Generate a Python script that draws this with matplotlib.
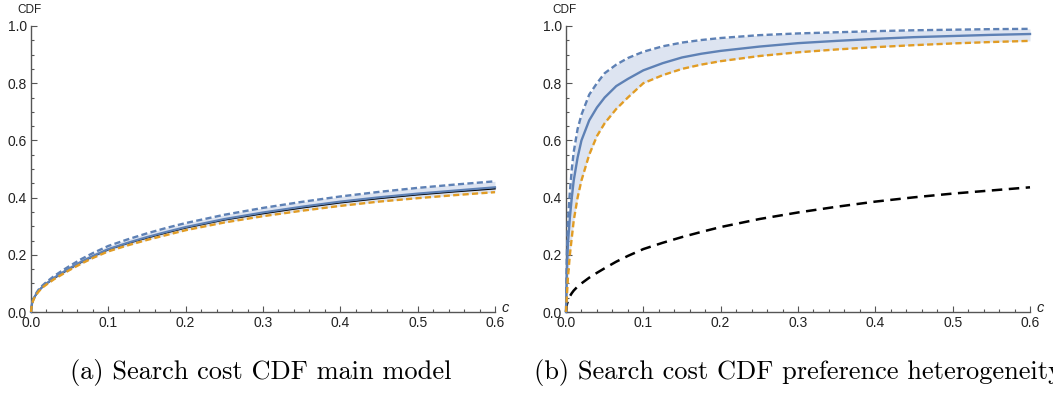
import matplotlib
import matplotlib.pyplot as plt
from matplotlib.ticker import MultipleLocator, FormatStrFormatter

matplotlib.use("Agg")

# shared grid of search cost values
cost = [0, 0.001, 0.0025, 0.005, 0.0075, 0.01, 0.015, 0.02, 0.03, 0.04, 0.05,
        0.065, 0.08, 0.1, 0.125, 0.15, 0.175, 0.2, 0.25, 0.3, 0.35, 0.4,
        0.45, 0.5, 0.55, 0.6]

# (a) main model
main_est = [0, 0.025, 0.040, 0.055, 0.066, 0.075, 0.089, 0.100, 0.120, 0.137, 0.153,
            0.176, 0.196, 0.220, 0.242, 0.262, 0.280, 0.297, 0.325, 0.348, 0.368,
            0.386, 0.401, 0.414, 0.425, 0.436]
main_hi = [0, 0.026, 0.042, 0.058, 0.069, 0.079, 0.093, 0.105, 0.126, 0.144, 0.161,
           0.185, 0.206, 0.231, 0.254, 0.275, 0.294, 0.311, 0.340, 0.364, 0.385,
           0.404, 0.420, 0.434, 0.446, 0.457]
main_lo = [0, 0.024, 0.038, 0.053, 0.063, 0.072, 0.086, 0.096, 0.115, 0.131, 0.147,
           0.169, 0.189, 0.212, 0.233, 0.252, 0.269, 0.286, 0.313, 0.335, 0.354,
           0.371, 0.386, 0.398, 0.409, 0.419]
main_true = [0, 0.025, 0.040, 0.054, 0.065, 0.074, 0.088, 0.099, 0.118, 0.135, 0.151,
             0.174, 0.194, 0.218, 0.240, 0.259, 0.277, 0.294, 0.322, 0.344, 0.364,
             0.382, 0.397, 0.410, 0.421, 0.431]

# (b) preference heterogeneity
het_est = [0, 0.13, 0.24, 0.33, 0.40, 0.46, 0.54, 0.60, 0.67, 0.715, 0.75,
           0.79, 0.815, 0.845, 0.87, 0.89, 0.903, 0.913, 0.928, 0.940, 0.948,
           0.955, 0.961, 0.965, 0.969, 0.972]
het_hi = [0, 0.19, 0.32, 0.42, 0.50, 0.56, 0.64, 0.69, 0.76, 0.80, 0.835,
          0.865, 0.888, 0.91, 0.929, 0.942, 0.951, 0.958, 0.968, 0.974, 0.978,
          0.982, 0.985, 0.987, 0.989, 0.990]
het_lo = [0, 0.05, 0.12, 0.20, 0.26, 0.32, 0.40, 0.46, 0.55, 0.615, 0.66,
          0.71, 0.75, 0.80, 0.828, 0.85, 0.865, 0.877, 0.895, 0.908, 0.918,
          0.926, 0.933, 0.939, 0.944, 0.948]

BLUE = "#5e81b5"
ORANGE = "#e19c24"
BAND = "#dde4f1"
AXIS = "#555555"
DASH = (0, (2.6, 1.4))

fig = plt.figure(figsize=(10.53, 3.96), dpi=100)
ax_a = fig.add_axes([31 / 1053, 84 / 396, 464 / 1053, 286 / 396])
ax_b = fig.add_axes([566 / 1053, 84 / 396, 464 / 1053, 286 / 396])


def style_axis(ax):
    ax.set_xlim(0, 0.6)
    ax.set_ylim(0, 1)
    for side in ("top", "right"):
        ax.spines[side].set_visible(False)
    for side in ("left", "bottom"):
        ax.spines[side].set_color(AXIS)
        ax.spines[side].set_linewidth(1.0)
    ax.xaxis.set_major_locator(MultipleLocator(0.1))
    ax.xaxis.set_minor_locator(MultipleLocator(0.02))
    ax.yaxis.set_major_locator(MultipleLocator(0.2))
    ax.yaxis.set_minor_locator(MultipleLocator(0.05))
    ax.xaxis.set_major_formatter(FormatStrFormatter("%.1f"))
    ax.yaxis.set_major_formatter(FormatStrFormatter("%.1f"))
    ax.tick_params(which="both", direction="in", color=AXIS, width=0.8,
                   labelsize=10, labelcolor="#222222", pad=3)
    for label in ax.get_xticklabels() + ax.get_yticklabels():
        label.set_fontfamily("Liberation Sans")
    ax.tick_params(which="major", length=4.5)
    ax.tick_params(which="minor", length=2.5)
    ax.text(-0.030, 1.056, "CDF", transform=ax.transAxes, fontsize=8.5,
            fontfamily="Liberation Sans", color="#222222", ha="left", va="center")
    ax.text(1.015, 0.015, "c", transform=ax.transAxes, fontsize=10.5,
            fontfamily="Liberation Sans", style="italic", color="#222222",
            ha="left", va="center")


style_axis(ax_a)
ax_a.fill_between(cost, main_lo, main_hi, color=BAND, lw=0, zorder=1)
ax_a.plot(cost, main_true, color="black", lw=1.1, zorder=2)
ax_a.plot(cost, main_est, color=BLUE, lw=1.6, zorder=3)
ax_a.plot(cost, main_hi, color=BLUE, lw=1.7, ls=DASH, zorder=3)
ax_a.plot(cost, main_lo, color=ORANGE, lw=1.7, ls=DASH, zorder=3)

style_axis(ax_b)
ax_b.fill_between(cost, het_lo, het_hi, color=BAND, lw=0, zorder=1)
ax_b.plot(cost, main_est, color="black", lw=1.8, ls=(0, (4.2, 2.6)), zorder=2)
ax_b.plot(cost, het_est, color=BLUE, lw=1.7, zorder=3)
ax_b.plot(cost, het_hi, color=BLUE, lw=1.7, ls=DASH, zorder=3)
ax_b.plot(cost, het_lo, color=ORANGE, lw=1.7, ls=DASH, zorder=3)

for ax in (ax_a, ax_b):
    for line in ax.get_lines():
        line.set_clip_on(False)

fig.text(70 / 1053, 1 - 372 / 396, "(a) Search cost CDF main model",
         fontfamily="cmr10", fontsize=19, ha="left", va="center")
fig.text(534 / 1053, 1 - 372 / 396, "(b) Search cost CDF preference heterogeneity",
         fontfamily="cmr10", fontsize=19, ha="left", va="center")

fig.savefig("out.png", dpi=100)
